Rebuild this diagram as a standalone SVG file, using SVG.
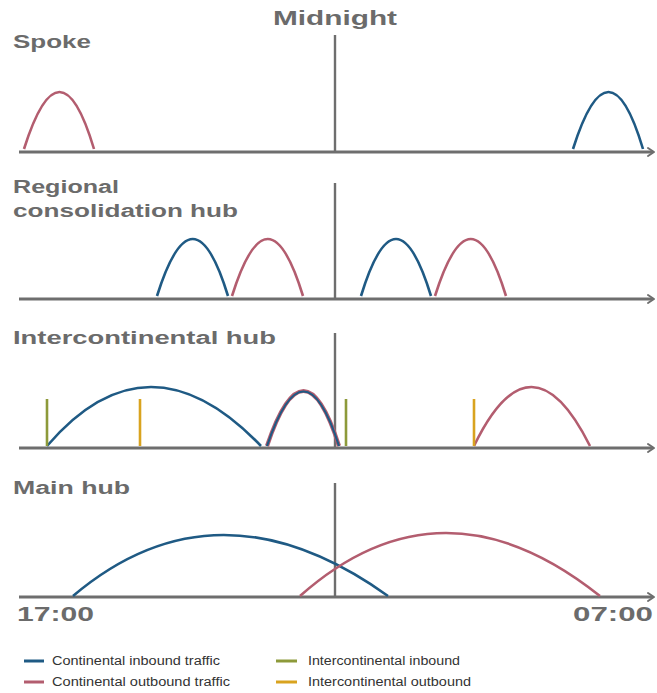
<svg xmlns="http://www.w3.org/2000/svg" width="657" height="693" viewBox="0 0 657 693">
  <style>
    .bg { fill: #ffffff; }
    .axis { stroke: #6e6e6e; stroke-width: 3; fill: none; }
    .head { stroke: #6e6e6e; stroke-width: 2; fill: none; stroke-linecap: round; stroke-linejoin: round; }
    .mid { stroke: #6e6e6e; stroke-width: 2.4; fill: none; }
    .in { stroke: #1f5a84; stroke-width: 2.6; fill: none; }
    .out { stroke: #b35d6f; stroke-width: 2.6; fill: none; }
    .ici { stroke: #8d9a3a; stroke-width: 2.6; fill: none; }
    .ico { stroke: #d9a31f; stroke-width: 2.6; fill: none; }
    .title { font-family: "Liberation Sans", Arial, sans-serif; font-weight: bold; font-size: 18px; fill: #6b6b6b; }
    .time { font-family: "Liberation Sans", Arial, sans-serif; font-weight: bold; font-size: 20px; fill: #6b6b6b; }
    .legend { font-family: "Liberation Sans", Arial, sans-serif; font-size: 12px; fill: #333333; }
  </style>
  <defs>
    <g id="arrow-head">
      <path class="head" d="M-6,-4 L0,0 L-6,4"/>
    </g>
  </defs>

  <rect class="bg" x="0" y="0" width="657" height="693"/>

  <text class="time" x="273" y="25" textLength="124" lengthAdjust="spacingAndGlyphs">Midnight</text>

  <!-- Spoke -->
  <g id="spoke">
    <text class="title" x="13" y="48" textLength="78" lengthAdjust="spacingAndGlyphs">Spoke</text>
    <line class="axis" x1="19" y1="152" x2="653" y2="152"/>
    <use href="#arrow-head" x="654" y="152"/>
    <line class="mid" x1="335" y1="35" x2="335" y2="152"/>
    <path class="out" d="M24,149 Q60,35 94,149"/>
    <path class="in" d="M573,149 Q609,35 643,149"/>
  </g>

  <!-- Regional consolidation hub -->
  <g id="regional-hub">
    <text class="title" x="13" y="193" textLength="106" lengthAdjust="spacingAndGlyphs">Regional</text>
    <text class="title" x="13" y="217" textLength="225" lengthAdjust="spacingAndGlyphs">consolidation hub</text>
    <line class="axis" x1="19" y1="299" x2="653" y2="299"/>
    <use href="#arrow-head" x="654" y="299"/>
    <line class="mid" x1="335" y1="183" x2="335" y2="299"/>
    <path class="in" d="M157,296 Q193,182 228,296"/>
    <path class="out" d="M232,296 Q268,182 303,296"/>
    <path class="in" d="M361,296 Q396,182 431,296"/>
    <path class="out" d="M435,296 Q471,182 506,296"/>
  </g>

  <!-- Intercontinental hub -->
  <g id="intercontinental-hub">
    <text class="title" x="13" y="344" textLength="263" lengthAdjust="spacingAndGlyphs">Intercontinental hub</text>
    <line class="axis" x1="19" y1="448" x2="653" y2="448"/>
    <use href="#arrow-head" x="654" y="448"/>
    <line class="mid" x1="335" y1="333" x2="335" y2="448"/>
    <path class="in" d="M47,446 Q148,328 261,446"/>
    <!-- inbound and outbound waves overlap here: outbound drawn wider underneath -->
    <path class="out" d="M267,446 Q304,336 339,446" style="stroke-width:4.2"/>
    <path class="in" d="M267,446 Q304,337 339,446" style="stroke-width:2.2"/>
    <path class="out" d="M474,446 Q531,328 590,446"/>
    <line class="ici" x1="47" y1="399" x2="47" y2="446"/>
    <line class="ico" x1="140" y1="399" x2="140" y2="446"/>
    <line class="ici" x1="346" y1="399" x2="346" y2="446"/>
    <line class="ico" x1="474" y1="399" x2="474" y2="446"/>
  </g>

  <!-- Main hub -->
  <g id="main-hub">
    <text class="title" x="13" y="494" textLength="117" lengthAdjust="spacingAndGlyphs">Main hub</text>
    <line class="axis" x1="19" y1="597" x2="653" y2="597"/>
    <use href="#arrow-head" x="654" y="597"/>
    <line class="mid" x1="335" y1="483" x2="335" y2="597"/>
    <path class="in" d="M73,596 Q217,474 388,596"/>
    <path class="out" d="M300,596 Q442,470 600,596"/>
    <text class="time" x="17" y="621" textLength="77" lengthAdjust="spacingAndGlyphs">17:00</text>
    <text class="time" x="573" y="621" textLength="80" lengthAdjust="spacingAndGlyphs">07:00</text>
  </g>

  <!-- Legend -->
  <g id="legend">
    <line class="in" x1="24" y1="661" x2="44" y2="661" style="stroke-width:3"/>
    <text class="legend" x="52" y="665" textLength="168" lengthAdjust="spacingAndGlyphs">Continental inbound traffic</text>
    <line class="out" x1="24" y1="682" x2="44" y2="682" style="stroke-width:3"/>
    <text class="legend" x="52" y="686" textLength="178" lengthAdjust="spacingAndGlyphs">Continental outbound traffic</text>
    <line class="ici" x1="276" y1="661" x2="297" y2="661" style="stroke-width:3"/>
    <text class="legend" x="308" y="665" textLength="152" lengthAdjust="spacingAndGlyphs">Intercontinental inbound</text>
    <line class="ico" x1="276" y1="682" x2="297" y2="682" style="stroke-width:3"/>
    <text class="legend" x="308" y="686" textLength="163" lengthAdjust="spacingAndGlyphs">Intercontinental outbound</text>
  </g>
</svg>
